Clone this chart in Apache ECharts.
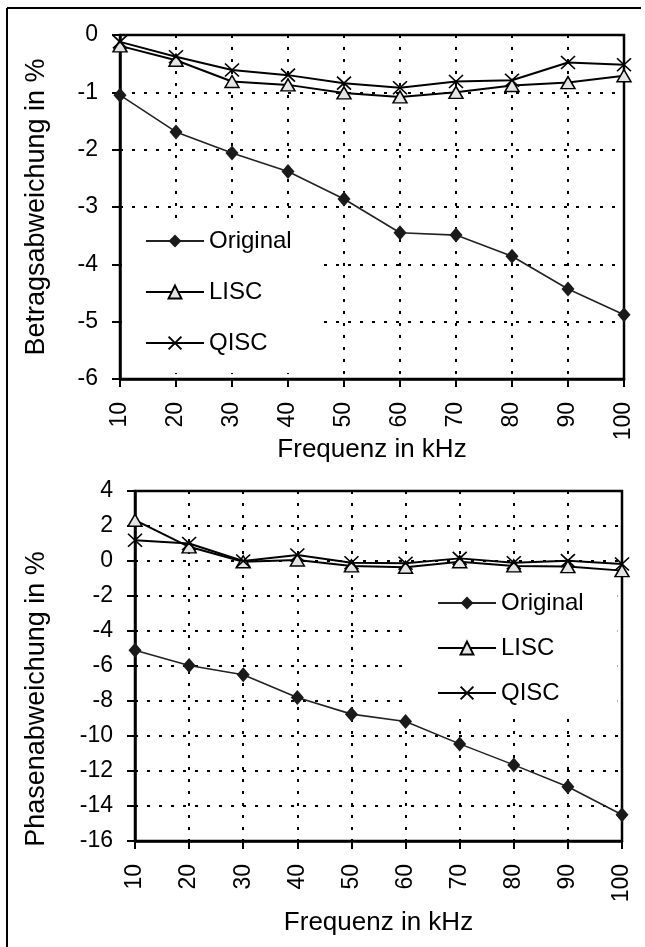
<!DOCTYPE html>
<html>
<head>
<meta charset="utf-8">
<script src="https://cdn.jsdelivr.net/npm/echarts@6/dist/echarts.min.js"></script>
<style>
  html, body { margin: 0; padding: 0; background: #fff; }
  #chart { width: 645px; height: 947px; }
</style>
</head>
<body>
<div id="chart"></div>
<script>
// frequency axis (kHz)
const freqs = [10, 20, 30, 40, 50, 60, 70, 80, 90, 100];

// Betragsabweichung in %
const ampOriginal = [-1.05, -1.69, -2.06, -2.38, -2.86, -3.45, -3.49, -3.86, -4.43, -4.88];
const ampLISC     = [-0.19, -0.44, -0.81, -0.87, -1.01, -1.08, -1.00, -0.88, -0.83, -0.71];
const ampQISC     = [-0.12, -0.38, -0.61, -0.70, -0.84, -0.92, -0.81, -0.79, -0.48, -0.52];

// Phasenabweichung in %
const phOriginal = [-5.1, -5.97, -6.5, -7.8, -8.75, -9.17, -10.45, -11.65, -12.9, -14.5];
const phLISC     = [2.33, 0.81, -0.04, 0.06, -0.28, -0.36, -0.04, -0.28, -0.32, -0.55];
const phQISC     = [1.19, 1.0, 0.0, 0.34, -0.1, -0.13, 0.15, -0.1, 0.02, -0.17];

const seriesNames = ["Original", "LISC", "QISC"];

const FONT = "Liberation Sans, Arial, sans-serif";
const CROSS = "path://M0,0L10,10M10,0L0,10";

const pairs = (ys) => freqs.map((f, i) => [f, ys[i]]);

const gridLine = { color: "#000", type: [3, 9], width: 2 };

function xAxisFor(gridIndex, nameGap) {
  return {
    type: "value",
    gridIndex,
    min: 10,
    max: 100,
    interval: 10,
    name: "Frequenz in kHz",
    nameLocation: "middle",
    nameGap,
    nameMoveOverlap: false,
    nameTextStyle: { fontFamily: FONT, fontSize: 26, color: "#000" },
    axisLine: { show: true, onZero: false, lineStyle: { color: "#000", width: 2.5 } },
    axisTick: { show: true, length: 8, lineStyle: { color: "#000", width: 2 } },
    axisLabel: { rotate: 90, margin: 23, fontFamily: FONT, fontSize: 23, color: "#000" },
    splitLine: { show: true, lineStyle: gridLine },
  };
}

function yAxisFor(gridIndex, min, max, interval, name, gap, namePad) {
  return {
    type: "value",
    gridIndex,
    min,
    max,
    interval,
    name,
    nameLocation: "middle",
    nameGap: gap,
    nameMoveOverlap: false,
    nameTextStyle: { fontFamily: FONT, fontSize: 27, color: "#000", padding: namePad },
    axisLine: { show: true, onZero: false, lineStyle: { color: "#000", width: 2.5 } },
    axisTick: { show: true, length: 8, lineStyle: { color: "#000", width: 2 } },
    axisLabel: { margin: 22, fontFamily: FONT, fontSize: 23, color: "#000" },
    splitLine: { show: true, lineStyle: gridLine },
  };
}

function seriesFor(idx, orig, lisc, qisc) {
  return [
    {
      name: "Original", type: "line", xAxisIndex: idx, yAxisIndex: idx,
      data: pairs(orig),
      symbol: "diamond", symbolSize: [13, 15],
      lineStyle: { color: "#222", width: 1.6 },
      itemStyle: { color: "#1a1a1a" },
      z: 5,
    },
    {
      name: "LISC", type: "line", xAxisIndex: idx, yAxisIndex: idx,
      data: pairs(lisc),
      symbol: "triangle", symbolSize: [14, 12],
      lineStyle: { color: "#000", width: 2 },
      itemStyle: { color: "#e4e4e4", borderColor: "#000", borderWidth: 1.5 },
      z: 5,
    },
    {
      name: "QISC", type: "line", xAxisIndex: idx, yAxisIndex: idx,
      data: pairs(qisc),
      symbol: CROSS, symbolSize: [14, 13],
      lineStyle: { color: "#000", width: 2 },
      itemStyle: { color: "#000", borderColor: "#000", borderWidth: 1.6 },
      z: 6,
    },
  ];
}

function legendAt(left, top, padding, itemGap) {
  return {
    data: seriesNames,
    orient: "vertical",
    left, top, padding, itemGap,
    itemWidth: 58,
    itemHeight: 16,
    backgroundColor: "#fff",
    textStyle: { fontFamily: FONT, fontSize: 24, color: "#000" },
    selectedMode: false,
    z: 3,
  };
}

const chart = echarts.init(document.getElementById("chart"), null, { renderer: "canvas" });

chart.setOption({
  animation: false,
  backgroundColor: "#fff",
  grid: [
    { left: 120, top: 35, width: 504, height: 344, show: true, borderColor: "#000", borderWidth: 2.5 },
    { left: 135, top: 491, width: 487, height: 350, show: true, borderColor: "#000", borderWidth: 2.5 },
  ],
  xAxis: [xAxisFor(0, 58), xAxisFor(1, 69)],
  yAxis: [
    yAxisFor(0, -6, 0, 1, "Betragsabweichung in %", 70, 0),
    yAxisFor(1, -16, 4, 2, "Phasenabweichung in %", 85, [0, 66, 0, 0]),
  ],
  legend: [
    legendAt(122, 220, [9, 24, 18, 23], 27),
    legendAt(405, 575, [16, 34, 14, 32], 21),
  ],
  series: [
    ...seriesFor(0, ampOriginal, ampLISC, ampQISC),
    ...seriesFor(1, phOriginal, phLISC, phQISC),
  ],
  graphic: [
    { type: "line", shape: { x1: 7, y1: 8, x2: 7, y2: 947 }, style: { stroke: "#000", lineWidth: 2 } },
    { type: "line", shape: { x1: 7, y1: 8, x2: 641, y2: 8 }, style: { stroke: "#000", lineWidth: 2 } },
  ],
});
</script>
</body>
</html>
